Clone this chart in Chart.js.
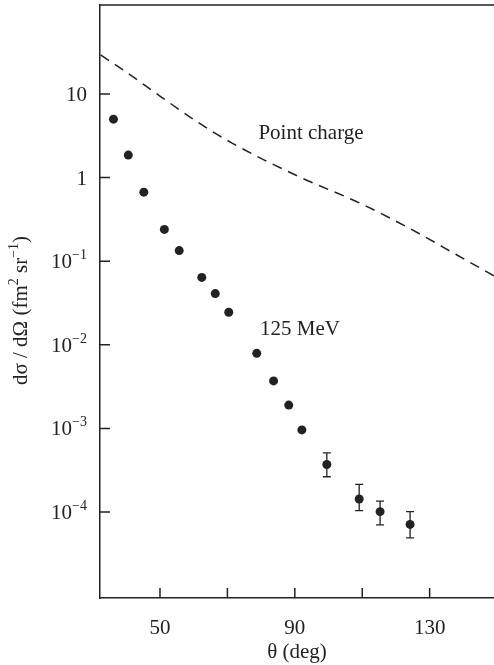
<!DOCTYPE html>
<html>
<head>
<meta charset="utf-8">
<script src="https://cdn.jsdelivr.net/npm/chart.js"></script>
<style>
  body { margin: 0; padding: 0; background: #fff; overflow: hidden; }
  canvas { display: block; }
</style>
</head>
<body>
<canvas id="chart" width="494" height="665"></canvas>
<script>
const theta = [36.2, 40.6, 45.2, 51.3, 55.7, 62.4, 66.4, 70.4, 78.7, 83.7, 88.2, 92.1, 99.5, 109.1, 115.3, 124.2];
const sigma = [5.0, 1.86, 0.67, 0.24, 0.134, 0.064, 0.041, 0.0245, 0.0079, 0.0037, 0.0019, 0.00096, 0.00037, 0.000143, 0.000101, 0.000071];
const errLo = [null, null, null, null, null, null, null, null, null, null, null, null, 0.000264, 0.000104, 0.000070, 0.000049];
const errHi = [null, null, null, null, null, null, null, null, null, null, null, null, 0.000510, 0.000214, 0.000135, 0.000101];

// point charge curve (dashed)
const pcTheta = [32.4, 40.2, 50.5, 60.7, 71.5, 91.6, 109.4, 126.7, 138.1, 149.2];
const pcSigma = [29.3, 18.0, 9.13, 4.75, 2.57, 1.01, 0.493, 0.216, 0.1186, 0.0665];

// axes
const xTickValues = [50, 70, 90, 110, 130];
const xTickLabels = ['50', '', '90', '', '130'];
const yTickValues = [10, 1, 0.1, 0.01, 0.001, 0.0001];
const yTickBase = ['10', '1', '10', '10', '10', '10'];
const yTickExp = ['', '', '\u22121', '\u22122', '\u22123', '\u22124'];

// in-plot labels
const noteTexts = ['Point charge', '125 MeV'];
const noteTheta = [79.2, 79.7];
const noteSigma = [2.9, 0.0131];

const SERIF = '"Liberation Serif", "Times New Roman", serif';
const INK = '#222';
const BASE = 21;
const SUP = 14;

function richWidth(ctx, parts) {
    let w = 0;
    for (const p of parts) {
        ctx.font = (p.sup ? SUP : BASE) + 'px ' + SERIF;
        w += ctx.measureText(p.t).width;
    }
    return w;
}

function drawRich(ctx, parts, x, y) {
    for (const p of parts) {
        ctx.font = (p.sup ? SUP : BASE) + 'px ' + SERIF;
        ctx.fillText(p.t, x, p.sup ? y - 9 : y);
        x += ctx.measureText(p.t).width;
    }
}

const yTitle = [
    { t: 'd\u03c3 / d\u03a9 (fm' }, { t: '2', sup: true },
    { t: ' sr' }, { t: '\u22121', sup: true }, { t: ')' }
];

// error bars, inward ticks, frame, superscript labels
const overlay = {
    id: 'overlay',
    beforeDatasetsDraw(chart) {
        const { ctx, scales: { x, y } } = chart;
        ctx.save();
        ctx.strokeStyle = INK;
        ctx.lineWidth = 1.3;
        theta.forEach((t, i) => {
            if (errLo[i] == null) return;
            const px = x.getPixelForValue(t);
            const y0 = y.getPixelForValue(errLo[i]);
            const y1 = y.getPixelForValue(errHi[i]);
            ctx.beginPath();
            ctx.moveTo(px, y0); ctx.lineTo(px, y1);
            ctx.moveTo(px - 4, y0); ctx.lineTo(px + 4, y0);
            ctx.moveTo(px - 4, y1); ctx.lineTo(px + 4, y1);
            ctx.stroke();
        });
        ctx.restore();
    },
    afterDraw(chart) {
        const { ctx, chartArea: a, scales: { x, y } } = chart;
        ctx.save();
        ctx.strokeStyle = INK;
        ctx.lineWidth = 1.5;
        ctx.beginPath();
        ctx.moveTo(a.left, a.top);
        ctx.lineTo(a.right, a.top);
        yTickValues.forEach(v => {
            const py = y.getPixelForValue(v);
            ctx.moveTo(a.left, py);
            ctx.lineTo(a.left + 10, py);
        });
        xTickValues.forEach(v => {
            const px = x.getPixelForValue(v);
            ctx.moveTo(px, a.bottom);
            ctx.lineTo(px, a.bottom - 10);
        });
        ctx.stroke();

        ctx.fillStyle = INK;
        ctx.textAlign = 'left';
        ctx.textBaseline = 'alphabetic';
        yTickValues.forEach((v, i) => {
            const parts = [{ t: yTickBase[i] }, { t: yTickExp[i], sup: true }];
            const w = richWidth(ctx, parts);
            drawRich(ctx, parts, a.left - 13 - w, y.getPixelForValue(v) + 7);
        });

        ctx.font = BASE + 'px ' + SERIF;
        noteTexts.forEach((s, i) => {
            ctx.fillText(s, x.getPixelForValue(noteTheta[i]), y.getPixelForValue(noteSigma[i]));
        });

        ctx.translate(27, (a.top + a.bottom) / 2 + 9);
        ctx.rotate(-Math.PI / 2);
        const w = richWidth(ctx, yTitle);
        drawRich(ctx, yTitle, -w / 2, 0);
        ctx.restore();
    }
};

new Chart(document.getElementById('chart'), {
    type: 'scatter',
    data: {
        datasets: [{
            type: 'line',
            label: 'Point charge',
            data: pcTheta.map((t, i) => ({ x: t, y: pcSigma[i] })),
            borderColor: INK,
            borderWidth: 1.5,
            borderDash: [10, 7],
            pointRadius: 0,
            cubicInterpolationMode: 'monotone',
            fill: false
        }, {
            label: '125 MeV',
            data: theta.map((t, i) => ({ x: t, y: sigma[i] })),
            pointRadius: 4.5,
            backgroundColor: INK,
            borderWidth: 0
        }]
    },
    options: {
        responsive: false,
        animation: false,
        devicePixelRatio: 1,
        layout: { autoPadding: false, padding: { top: 5, right: 0, bottom: 0, left: 0 } },
        plugins: {
            legend: { display: false },
            tooltip: { enabled: false }
        },
        scales: {
            x: {
                type: 'linear',
                position: 'bottom',
                min: 32.2,
                max: 149.1,
                afterBuildTicks: s => { s.ticks = xTickValues.map(v => ({ value: v })); },
                afterFit: s => { s.height = 67; },
                grid: { display: false, drawTicks: false },
                border: { display: true, color: INK, width: 1.5 },
                ticks: {
                    padding: 18,
                    color: INK,
                    maxRotation: 0,
                    autoSkip: false,
                    font: { family: SERIF, size: BASE },
                    callback: (v, i) => xTickLabels[i]
                },
                title: {
                    display: true,
                    text: '\u03b8 (deg)',
                    color: INK,
                    padding: 0,
                    font: { family: SERIF, size: BASE }
                }
            },
            y: {
                type: 'logarithmic',
                position: 'left',
                min: 9.36e-6,
                max: 116,
                afterBuildTicks: s => { s.ticks = yTickValues.map(v => ({ value: v })); },
                afterFit: s => { s.width = 100; },
                grid: { display: false, drawTicks: false },
                border: { display: true, color: INK, width: 1.5 },
                ticks: { display: false }
            }
        }
    },
    plugins: [overlay]
});
</script>
</body>
</html>
